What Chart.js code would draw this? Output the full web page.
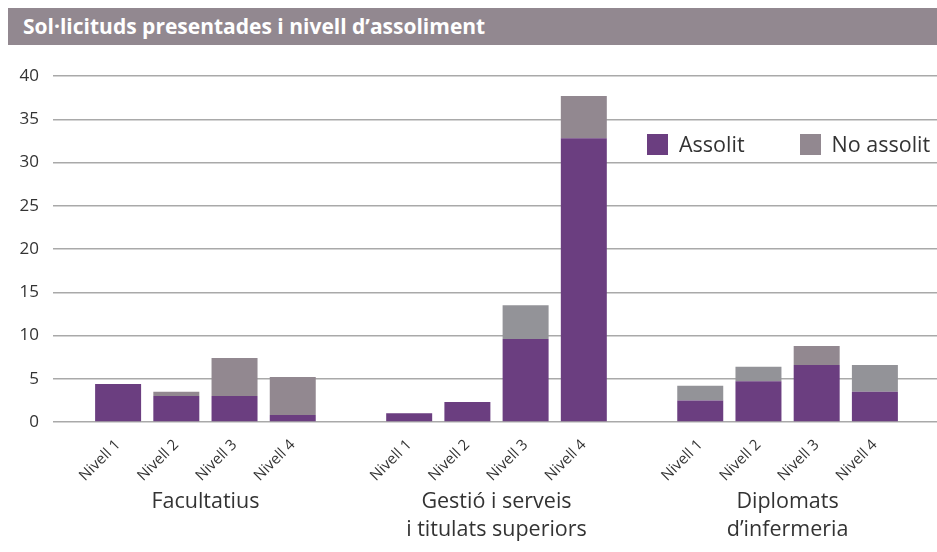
<!DOCTYPE html>
<html>
<head>
<meta charset="utf-8">
<title>Sol·licituds presentades i nivell d’assoliment</title>
<script src="https://cdn.jsdelivr.net/npm/chart.js@4.4.1/dist/chart.umd.min.js"></script>
<style>
  html, body { margin: 0; padding: 0; background: #fff; }
  body { width: 937px; height: 552px; position: relative; overflow: hidden; font-family: "Open Sans", sans-serif; }
  #title {
    position: absolute; left: 8px; top: 8px; width: 929px; height: 37px;
    background: #928890; color: #fff; font-weight: bold; font-size: 21px;
    line-height: 37px; padding-left: 15px; box-sizing: border-box; white-space: nowrap;
  }
  #wrap { position: absolute; left: 0; top: 0; width: 937px; height: 552px; }
  #legend { position: absolute; left: 647px; top: 129px; color: #333; font-size: 21.5px; white-space: nowrap; }
  #legend span.item { display: inline-block; margin-right: 55px; }
  #legend span.box { display: inline-block; width: 21px; height: 21px; vertical-align: -3px; margin-right: 11px; }
</style>
</head>
<body>
<div id="wrap"><canvas id="chart-levels"></canvas></div>
<div id="title">Sol·licituds presentades i nivell d’assoliment</div>
<div id="legend"></div>

<script>
// data
var levels = ["Nivell 1", "Nivell 2", "Nivell 3", "Nivell 4"];
var groups = [
  ["Facultatius"],
  ["Gestió i serveis", "i titulats superiors"],
  ["Diplomats", "d’infermeria"]
];
var assolit = [
  [4.4, 3.0, 3.0, 0.8],
  [1.0, 2.3, 9.6, 32.8],
  [2.5, 4.7, 6.6, 3.5]
];
var noAssolit = [
  [0, 0.5, 4.4, 4.4],
  [0, 0, 3.9, 4.9],
  [1.7, 1.7, 2.2, 3.1]
];
var yTicks = [0, 5, 10, 15, 20, 25, 30, 35, 40];

var PURPLE = "#6b3e80";
var MAUVE = "#928890";
var GREY = "#939398";
var GRID = "#a9a9a9";
// the grey tone changes from bar to bar in the original
var greyTones = [
  [MAUVE, MAUVE, MAUVE, MAUVE],
  [MAUVE, MAUVE, GREY, MAUVE],
  [GREY, GREY, MAUVE, GREY]
];

document.addEventListener("DOMContentLoaded", function () {
  // one empty slot between groups
  var labels = [];
  var dataA = [];
  var dataN = [];
  var colN = [];
  groups.forEach(function (g, gi) {
    if (gi > 0) {
      labels.push("");
      dataA.push(null);
      dataN.push(null);
      colN.push(MAUVE);
    }
    levels.forEach(function (lv, li) {
      labels.push(lv);
      dataA.push(assolit[gi][li]);
      dataN.push(noAssolit[gi][li]);
      colN.push(greyTones[gi][li]);
    });
  });
  var slotsPerGroup = levels.length + 1;

  Chart.defaults.font.family = "'Open Sans', sans-serif";
  Chart.defaults.color = "#333";

  var chart = new Chart(document.getElementById("chart-levels"), {
    type: "bar",
    data: {
      labels: labels,
      datasets: [
        { label: "Assolit", data: dataA, backgroundColor: PURPLE, xAxisID: "x", yAxisID: "y" },
        { label: "No assolit", data: dataN, backgroundColor: colN, legendColor: MAUVE, xAxisID: "x", yAxisID: "y" }
      ]
    },
    options: {
      responsive: true,
      maintainAspectRatio: false,
      animation: false,
      categoryPercentage: 1,
      barPercentage: 0.79,
      layout: { padding: { top: 76, left: 0, right: 0, bottom: 0 } },
      plugins: { legend: { display: false }, tooltip: { enabled: false } },
      scales: {
        x: {
          stacked: true,
          grid: { display: false },
          border: { display: false },
          ticks: { autoSkip: false, minRotation: 45, maxRotation: 45, padding: 6, font: { size: 15 } },
          afterFit: function (s) { s.height = 62; }
        },
        x2: {
          type: "linear",
          position: "bottom",
          offset: false,
          min: -0.5,
          max: labels.length - 0.5,
          grid: { display: false, offset: false },
          border: { display: false },
          afterBuildTicks: function (s) {
            s.ticks = groups.map(function (g, gi) {
              return { value: gi * slotsPerGroup + (levels.length - 1) / 2 };
            });
          },
          ticks: {
            autoSkip: false, minRotation: 0, maxRotation: 0, padding: -4,
            font: { size: 21.5, lineHeight: 1.3 },
            callback: function (v) {
              var gi = Math.round((v - (levels.length - 1) / 2) / slotsPerGroup);
              return groups[gi] || "";
            }
          },
          afterFit: function (s) { s.height = 68; }
        },
        y: {
          stacked: true,
          min: 0,
          max: 40,
          afterBuildTicks: function (s) { s.ticks = yTicks.map(function (v) { return { value: v }; }); },
          grid: { color: GRID, lineWidth: 1.5, tickLength: 36 },
          border: { display: false },
          ticks: { padding: 14, font: { size: 17 } },
          afterFit: function (s) { s.width = 89; }
        },
        y2: {
          position: "right",
          min: 0,
          max: 40,
          afterBuildTicks: function (s) { s.ticks = yTicks.map(function (v) { return { value: v }; }); },
          grid: { color: GRID, lineWidth: 1.5, tickLength: 33, drawOnChartArea: false },
          border: { display: false },
          ticks: { display: false },
          afterFit: function (s) { s.width = 33; }
        }
      }
    }
  });

  var legend = document.getElementById("legend");
  chart.data.datasets.forEach(function (ds) {
    var item = document.createElement("span");
    item.className = "item";
    var box = document.createElement("span");
    box.className = "box";
    box.style.background = ds.legendColor || ds.backgroundColor;
    item.appendChild(box);
    item.appendChild(document.createTextNode(ds.label));
    legend.appendChild(item);
  });
});
</script>
</body>
</html>
